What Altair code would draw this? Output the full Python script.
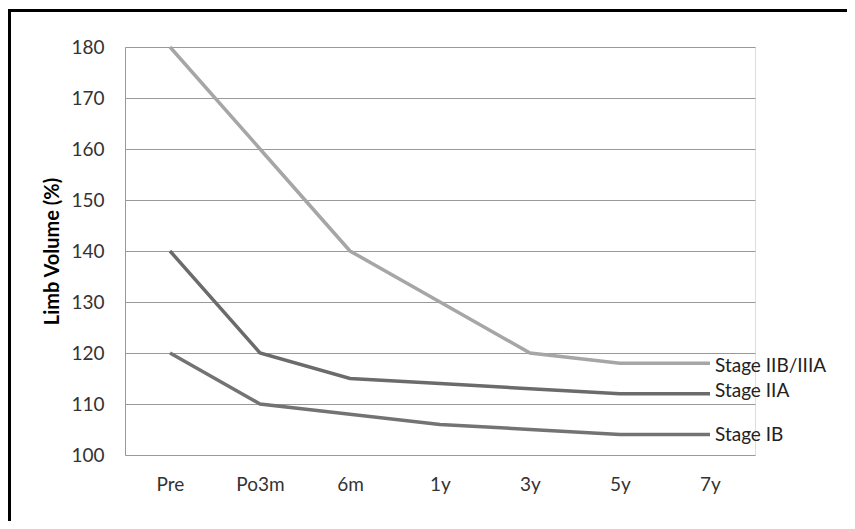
import altair as alt
import pandas as pd

categories = ["Pre", "Po3m", "6m", "1y", "3y", "5y", "7y"]
series_names = ["Stage IIB/IIIA", "Stage IIA", "Stage IB"]
stage_iib_iiia = [180, 160, 140, 130, 120, 118, 118]
stage_iia = [140, 120, 115, 114, 113, 112, 112]
stage_ib = [120, 110, 108, 106, 105, 104, 104]
y_ticks = [100, 110, 120, 130, 140, 150, 160, 170, 180]

values = [stage_iib_iiia, stage_iia, stage_ib]
rows = []
for name, vals in zip(series_names, values):
    for c, v in zip(categories, vals):
        rows.append({"time": c, "value": v, "stage": name})
df = pd.DataFrame(rows)

colors = ["#a6a6a6", "#6b6b6b", "#737373"]
label_dy = [3, -3, 0]
FONT = "Lato"
FS = 19

x_enc = alt.X("time:N", sort=categories, scale=alt.Scale(type="point", padding=0.5),
              axis=alt.Axis(title=None, labelAngle=0, ticks=False, domain=False, grid=False,
                            labelPadding=20, labelFont=FONT, labelFontSize=FS, labelColor="#333333"))
y_enc = alt.Y("value:Q", scale=alt.Scale(domain=[100, 180], nice=False, zero=False),
              axis=alt.Axis(values=y_ticks, title="Limb Volume (%)", titleFont=FONT, titleFontSize=20,
                            titleFontWeight="bold", titleColor="#000000", titleAngle=270,
                            titleX=-73, titleY=204, titleAlign="center", titleBaseline="middle",
                            labelFont=FONT, labelFontSize=FS, labelColor="#333333", labelPadding=21,
                            ticks=False, domain=True, domainColor="#999999", domainWidth=1,
                            grid=True, gridColor="#999999", gridWidth=1))

lines = alt.Chart(df).mark_line(strokeWidth=3.5).encode(
    x=x_enc, y=y_enc,
    color=alt.Color("stage:N", scale=alt.Scale(domain=series_names, range=colors), legend=None),
    detail="stage:N",
)

layers = [lines]
for name, dy in zip(series_names, label_dy):
    lab = alt.Chart(df[(df.stage == name) & (df.time == categories[-1])]).mark_text(
        align="left", baseline="middle", dx=5, dy=dy, font=FONT, fontSize=FS, color="#222222"
    ).encode(x=alt.X("time:N", sort=categories), y=alt.Y("value:Q"), text="stage:N")
    layers.append(lab)

frame_left = alt.Chart(df).mark_rule(color="#000000", strokeWidth=3).encode(
    x=alt.value(-116), y=alt.value(-37), y2=alt.value(520))
frame_top = alt.Chart(df).mark_rule(color="#000000", strokeWidth=3).encode(
    x=alt.value(-117.5), x2=alt.value(760), y=alt.value(-36.5))
layers += [frame_left, frame_top]

chart = alt.layer(*layers).properties(
    width=630, height=408,
    autosize=alt.AutoSizeParams(type="none"),
    padding={"left": 117, "top": 39, "right": 92, "bottom": 66},
).configure_view(stroke=None).configure(background="white")

chart.save("out.html", embed_options={"renderer": "svg", "actions": False})
